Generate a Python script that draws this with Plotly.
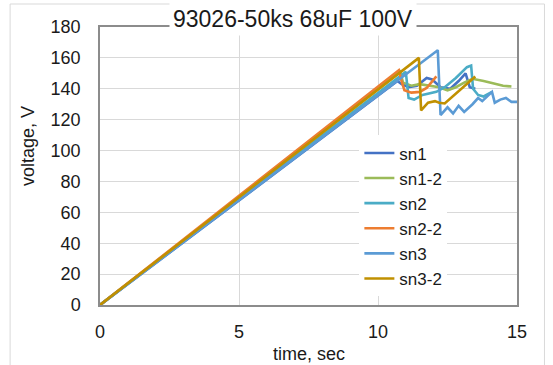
import plotly.graph_objects as go

# ---- data ----
series_names = ["sn1", "sn1-2", "sn2", "sn2-2", "sn3", "sn3-2"]

sn1_t = [0, 10.7, 10.85, 11.1, 11.4, 11.75, 11.95, 12.25, 12.6, 12.9, 13.15, 13.3, 13.5]
sn1_v = [0, 145, 143, 141, 142, 147, 146, 141, 140, 145, 150, 141, 140]

sn1_2_t = [0, 10.8, 10.9, 11.2, 11.5, 11.8, 12.2, 12.5, 12.8, 13.1, 13.4, 13.8, 14.2, 14.5, 14.8]
sn1_2_v = [0, 151, 144, 142, 143, 142, 141, 139, 141, 144, 146.5, 145, 143.5, 142, 141.5]

sn2_t = [0, 11.0, 11.1, 11.3, 11.6, 11.9, 12.1, 12.4, 12.8, 13.2, 13.35, 13.42, 13.6, 13.8, 14.1]
sn2_v = [0, 151, 134, 133, 136, 137, 138, 141, 147, 154, 155, 140, 136, 135, 138]

sn2_2_t = [0, 10.75, 10.85, 10.95, 11.2, 11.5, 11.75, 12.1]
sn2_2_v = [0, 152, 145, 139, 137.5, 138, 140.5, 148]

sn3_t = [0, 12.15, 12.25, 12.5, 12.7, 12.9, 13.1, 13.4, 13.6, 13.75, 14.1, 14.2, 14.4, 14.6, 14.8, 15.0]
sn3_v = [0, 165, 123, 128, 124, 129, 125, 130, 134, 132, 138, 131, 133, 134, 131.5, 131.5]

sn3_2_t = [0, 11.47, 11.55, 11.8, 12.05, 12.2, 12.4, 13.0, 13.5]
sn3_2_v = [0, 160, 126, 131, 132, 131, 130.5, 140, 148]

colors = ["#4472C4", "#9BBB59", "#4BACC6", "#ED7D31", "#5B9BD5", "#C09000"]

x_ticks = [0, 5, 10, 15]
y_ticks = [0, 20, 40, 60, 80, 100, 120, 140, 160, 180]

title_text = "93026-50ks 68uF 100V"
x_title = "time, sec"
y_title = "voltage, V"

all_t = [sn1_t, sn1_2_t, sn2_t, sn2_2_t, sn3_t, sn3_2_t]
all_v = [sn1_v, sn1_2_v, sn2_v, sn2_2_v, sn3_v, sn3_2_v]

FONT = "Liberation Sans, Arial, sans-serif"
TXT = "#1a1a1a"

fig = go.Figure()
for name, t, v, c in zip(series_names, all_t, all_v, colors):
    fig.add_trace(go.Scatter(x=t, y=v, mode="lines", name=name,
                             line=dict(color=c, width=2.6)))

fig.update_layout(
    width=553, height=365,
    margin=dict(l=100, r=35.5, t=27, b=60),
    paper_bgcolor="white", plot_bgcolor="white",
    font=dict(family=FONT, color=TXT, size=18),
    showlegend=True,
    legend=dict(x=0.622, y=0.61, xanchor="left", yanchor="top",
                bgcolor="white", borderwidth=0,
                font=dict(family=FONT, size=17, color=TXT),
                itemwidth=30, tracegroupgap=0),
    xaxis=dict(range=[0, 15], tickvals=x_ticks, showgrid=True,
               gridcolor="#D9D9D9", gridwidth=1, zeroline=False,
               showline=True, linecolor="#8C8C8C", linewidth=1.5, mirror=True,
               ticks="", ticklabelstandoff=10,
               tickfont=dict(family=FONT, size=18, color=TXT)),
    yaxis=dict(range=[0, 180], tickvals=y_ticks, showgrid=True,
               gridcolor="#D9D9D9", gridwidth=1, zeroline=False,
               showline=True, linecolor="#8C8C8C", linewidth=1.5, mirror=True,
               ticks="", ticklabelstandoff=14,
               tickfont=dict(family=FONT, size=18, color=TXT)),
)

# outer chart frame
fig.add_shape(type="rect", xref="paper", yref="paper",
              x0=(10 - 100) / 417.5, x1=(545 - 100) / 417.5,
              y0=(305 - 368) / 278, y1=(305 - 4) / 278,
              line=dict(color="#D9D9D9", width=1), layer="below")

# title overlapping the top border
fig.add_annotation(text=title_text, xref="paper", yref="paper",
                   x=(293 - 100) / 417.5, y=(305 - 19) / 278,
                   xanchor="center", yanchor="middle", showarrow=False,
                   bgcolor="white", borderpad=3,
                   font=dict(family=FONT, size=23, color=TXT))
# axis titles
fig.add_annotation(text=x_title, xref="paper", yref="paper",
                   x=0.5, y=(305 - 354) / 278, xanchor="center", yanchor="middle",
                   showarrow=False, font=dict(family=FONT, size=18, color=TXT))
fig.add_annotation(text=y_title, xref="paper", yref="paper",
                   x=(28 - 100) / 417.5, y=(305 - 146) / 278, textangle=-90,
                   xanchor="center", yanchor="middle",
                   showarrow=False, font=dict(family=FONT, size=18, color=TXT))

fig.write_html("out.html")
